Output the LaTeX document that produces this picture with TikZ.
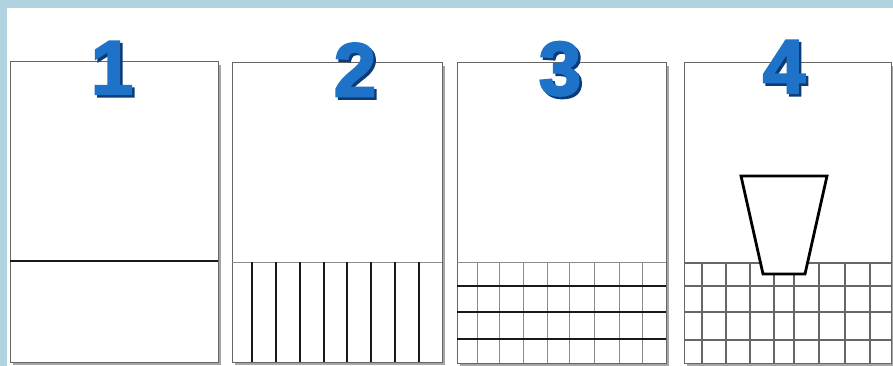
\documentclass[tikz,border=0pt]{standalone}
\usepackage{fontspec}
\newfontfamily\digitfont[FakeBold=3]{Liberation Sans Bold}
\definecolor{frameblue}{HTML}{AFD4E0}
\definecolor{digitblue}{HTML}{1E73C8}
\definecolor{digitshadow}{HTML}{0C3C78}
\newcommand{\shadeddigit}[1]{\makebox[0pt][l]{\hspace{2.5pt}\raisebox{-2.5pt}{\textcolor{digitshadow}{#1}}}\textcolor{digitblue}{#1}}
\tikzset{
  panelbox/.style={fill=white, draw=black!60, line width=1pt},
  panelshadow/.style={fill=black!35},
  thickline/.style={draw=black!90, line width=2.7pt},
  thingrid/.style={draw=black!45, line width=1pt},
  midgrid/.style={draw=black!60, line width=1.2pt},
  digit/.style={font=\digitfont\fontsize{76}{76}\selectfont, inner sep=0pt},
}
\begin{document}
\begin{tikzpicture}[x=1pt,y=-1pt]
\useasboundingbox (0,0) rectangle (893,366);
\fill[frameblue] (0,0) rectangle (893,366);
\fill[white] (7,8) rectangle (893,366);
% panels
\foreach \l/\t/\r/\b in {10/62/218/362, 232/63/442/362, 457/63/666/363, 684/63/891/363}{
  \fill[panelshadow] (\l+3,\t+3) rectangle (\r+3,\b+3);
  \filldraw[panelbox] (\l,\t) rectangle (\r,\b);
}
% panel 1
\draw[thickline] (10,261) -- (218,261);
% panel 2
\draw[thingrid] (232,262) -- (442,262);
\foreach \x in {252,276,300,324,347,371,395,419}{
  \draw[thickline] (\x,262) -- (\x,362);
}
% panel 3
\draw[thingrid] (457,262) -- (666,262);
\foreach \x in {477,499,523,547,569,594,619,642}{
  \draw[thingrid] (\x,262) -- (\x,363);
}
\foreach \y in {286,312,339}{
  \draw[thickline] (457,\y) -- (666,\y);
}
% panel 4
\foreach \y in {263,286,312,340}{
  \draw[midgrid] (684,\y) -- (891,\y);
}
\foreach \x in {702,726,750,774,794,819,845,870}{
  \draw[midgrid] (\x,263) -- (\x,363);
}
\filldraw[fill=white, draw=black, line width=2.8pt, line join=miter]
  (741,176) -- (827,176) -- (805,274) -- (763,274) -- cycle;
% digits
\node[digit] (d1) at (112,69) {\shadeddigit{1}};
\node[digit] (d2) at (355,71) {\shadeddigit{2}};
\node[digit] (d3) at (560,70) {\shadeddigit{3}};
\node[digit] (d4) at (784,68) {\shadeddigit{4}};
\end{tikzpicture}
\end{document}
